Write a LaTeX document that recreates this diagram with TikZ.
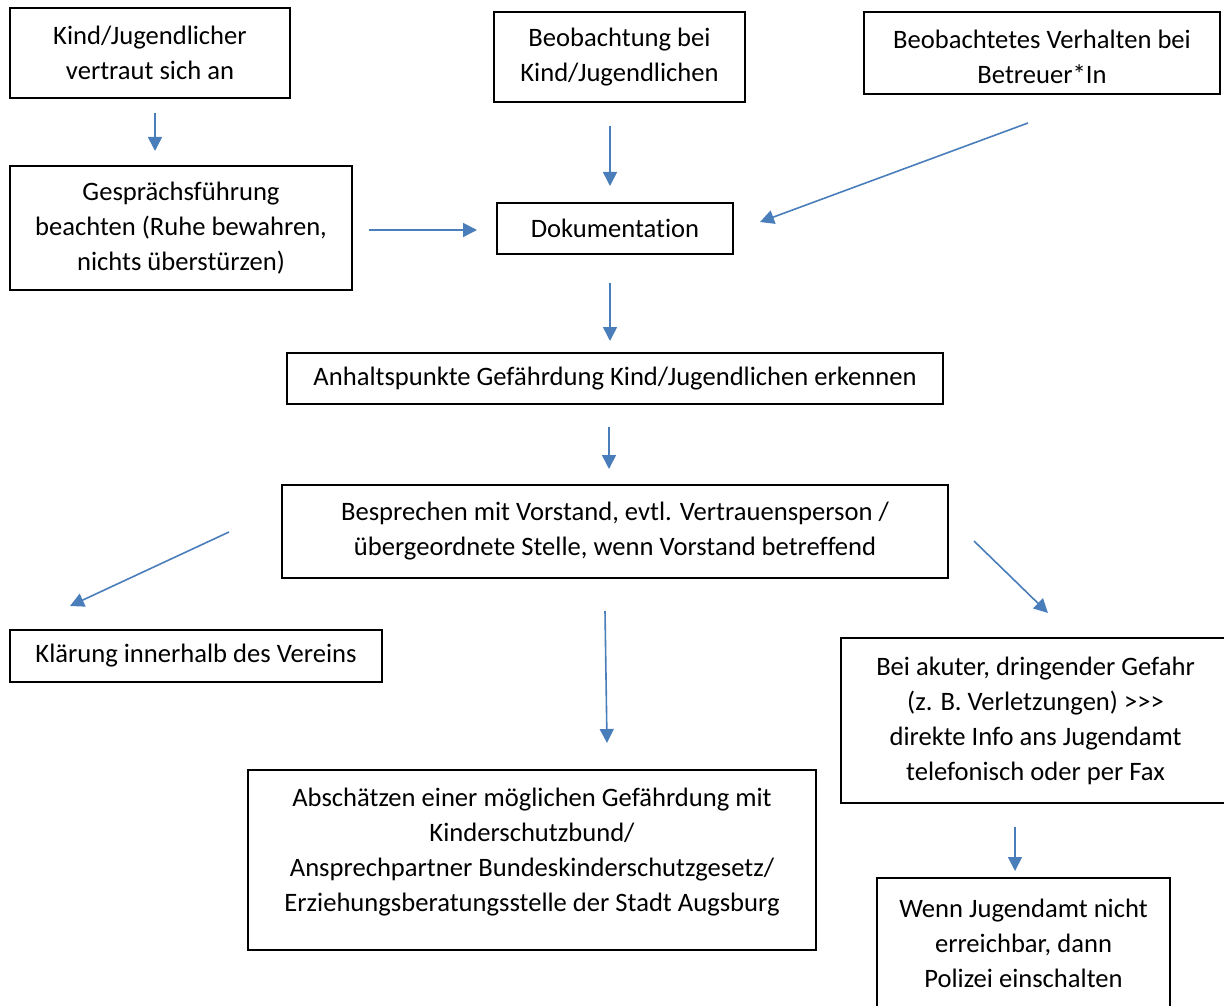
\documentclass[tikz,border=0pt]{standalone}
\usepackage{fontspec}
\setmainfont{Carlito}[Ligatures=NoCommon]
\usepackage{tikz}
\usetikzlibrary{positioning,calc,arrows.meta}
\definecolor{flowblue}{HTML}{4A7EBB}

\begin{document}
\begin{tikzpicture}[
    x=0.5pt, y=-0.5pt,
    every node/.style={font=\fontsize{13.3pt}{17.5pt}\selectfont},
    box/.style={rectangle, draw=black, line width=1pt, inner sep=0pt, align=center},
    txt/.style={inner sep=0pt, align=center},
    arrow/.style={-{Triangle[length=7pt, width=7pt]}, line width=0.8pt, flowblue},
]
\path[use as bounding box, clip] (0,0) rectangle (1224,1005);
% top row
\node[box, minimum width=140pt, minimum height=45pt] (kid) at (150,53) {Kind/Jugendlicher\\vertraut sich an};
\node[box, minimum width=125.5pt, minimum height=45pt] (seen) at (619.5,57) {Beobachtung bei\\Kind/Jugendlichen};
\node[box, minimum width=178pt, minimum height=41pt] (staff) at (1042,53) {\\[-4pt]Beobachtetes Verhalten bei\\Betreuer*In};
\node[box, minimum width=171pt, minimum height=62pt] (talk) at (181,228) {Gesprächsführung\\beachten (Ruhe bewahren,\\nichts überstürzen)};
\node[box, minimum width=118pt, minimum height=25.5pt] (docu) at (615,228.5) {Dokumentation};
% middle
\node[box, minimum width=328pt, minimum height=25.5pt] (signs) at (615,378.5) {Anhaltspunkte Gefährdung Kind/Jugendlichen erkennen};
\node[box, minimum width=333pt, minimum height=46.5pt] (discuss) at (615,531.5) {Besprechen mit Vorstand, evtl. Vertrauensperson /\\übergeordnete Stelle, wenn Vorstand betreffend};
% bottom
\node[box, minimum width=186pt, minimum height=26pt] (club) at (196,656) {Klärung innerhalb des Vereins};
\node[box, minimum width=284pt, minimum height=90pt] (assess) at (532,860) {};
\node[txt] (assesstxt) at ($(assess.center)+(0,-8)$) {Abschätzen einer möglichen Gefährdung mit\\Kinderschutzbund/\\Ansprechpartner Bundeskinderschutzgesetz/\\Erziehungsberatungsstelle der Stadt Augsburg};
\node[box, minimum width=194.5pt, minimum height=82.5pt] (urgent) at (1035.5,720.5) {Bei akuter, dringender Gefahr\\(z. B. Verletzungen) >{}>{}>\\direkte Info ans Jugendamt\\telefonisch oder per Fax};
\node[box, minimum width=146.5pt, minimum height=65pt] (police) at (1023.5,943) {Wenn Jugendamt nicht\\erreichbar, dann\\Polizei einschalten};
% arrows
\draw[arrow] ($(kid.south)+(5,14)$) -- ($(talk.north)+(-26,-14)$);
\draw[arrow] ($(seen.south)+(-9.5,23)$) -- ($(docu.north)+(-5,-16)$);
\draw[arrow] ($(staff.south)+(-14,28)$) -- ($(docu.east)+(26,-6.5)$);
\draw[arrow] ($(talk.east)+(16,2)$) -- ($(docu.west)+(-19,1.5)$);
\draw[arrow] ($(docu.south)+(-5,28)$) -- ($(signs.north)+(-5,-11)$);
\draw[arrow] ($(signs.south)+(-6,22)$) -- ($(discuss.north)+(-6,-15)$);
\draw[arrow] ($(discuss.west)+(-52,0.5)$) -- ($(club.north)+(-126,-23)$);
\draw[arrow] ($(discuss.east)+(25,9.5)$) -- ($(urgent.north)+(12.5,-24)$);
\draw[arrow] ($(discuss.south)+(-10,32)$) -- ($(assess.north)+(75,-26)$);
\draw[arrow] ($(urgent.south)+(-20.5,23)$) -- ($(police.north)+(-8.5,-6)$);
\end{tikzpicture}
\end{document}
